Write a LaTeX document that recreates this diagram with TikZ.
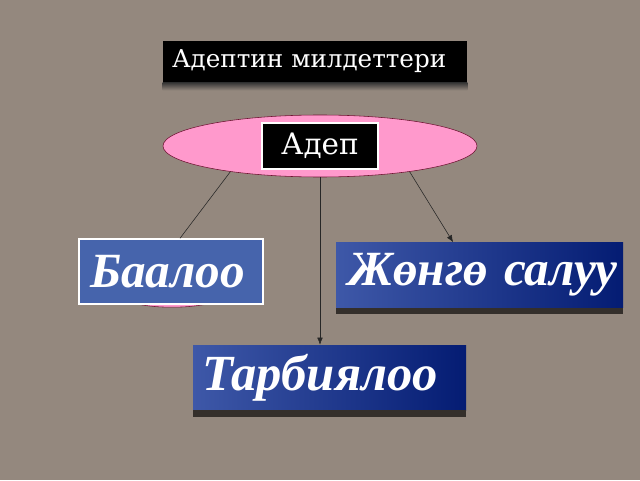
\documentclass[tikz,border=0pt]{standalone}
\usepackage{fontspec}
\setmainfont{Liberation Serif}
\newfontfamily\titlefont{DejaVu Serif}
\usetikzlibrary{shapes.geometric,arrows.meta,calc,positioning}
\definecolor{granite}{RGB}{148,136,126}
\definecolor{rosepink}{RGB}{255,153,204}
\definecolor{darkrose}{RGB}{110,20,50}
\definecolor{midblue}{RGB}{70,100,172}
\definecolor{lightnavy}{RGB}{62,88,168}
\definecolor{darknavy}{RGB}{4,28,115}
\definecolor{shadowbrown}{RGB}{52,47,43}

\begin{document}
\begin{tikzpicture}[
  blackbox/.style={fill=black,text=white,font=\titlefont\fontsize{17.5}{20}\selectfont,inner sep=0pt},
  bluebox/.style={text=white,font=\fontsize{35}{40}\selectfont\bfseries\itshape,align=left,inner sep=0pt,minimum height=1.625cm},
  navybox/.style={bluebox,left color=lightnavy,right color=darknavy},
  link/.style={draw=black!85,line width=0.4pt}
]
\fill[granite] (0,0) rectangle (16,12);
\useasboundingbox (0,0) rectangle (16,12);

% title
\node[blackbox,minimum width=7.6cm,minimum height=1.03cm,text width=7.15cm,align=left] (title) at (7.875,10.4625) {\mbox{Адептин милдеттери}};
\shade[top color=black!80,bottom color=granite] ($(title.south west)+(0,-0.2)$) rectangle (title.south east);

% the ellipse and its label
\node[ellipse,draw=darkrose,fill=rosepink,minimum width=7.85cm,minimum height=1.55cm,inner sep=0pt] (duty) at (8,8.35) {};
\node[blackbox,draw=white,line width=1.2pt,minimum width=2.9cm,minimum height=1.15cm,font=\titlefont\fontsize{21}{24}\selectfont] (adep) at (duty.center) {Адеп};

% pink piece behind the left box
\fill[rosepink,draw=darkrose] (4.3,4.8) ellipse [x radius=1.6,y radius=0.48];

% boxes
\node[bluebox,fill=midblue,draw=white,line width=1pt,minimum width=4.6cm,text width=4.05cm] (baaloo) at (4.275,5.2125) {\mbox{Баалоо}};
\node[navybox,minimum width=7.175cm,text width=6.575cm] (jongo) at (11.9875,5.125) {\mbox{Жөнгө салуу}};
\node[navybox,minimum width=6.825cm,text width=6.375cm,font=\fontsize{36}{42}\selectfont\bfseries\itshape] (tarbiya) at (8.2375,2.5625) {\mbox{Тарбиялоо}};
\fill[shadowbrown] ($(jongo.south west)+(0,-0.15)$) rectangle (jongo.south east);
\fill[shadowbrown] ($(tarbiya.south west)+(0,-0.17)$) rectangle (tarbiya.south east);

% connectors
\draw[link] (duty.196) -- ($(baaloo.north)+(0.225,0)$);
\draw[link,-{Latex[length=5pt,width=4pt]}] (duty.south) -- (duty.south |- tarbiya.north);
\draw[link,-{Latex[length=5pt,width=4pt]}] (duty.-16) -- ($(jongo.north)+(-0.66,0)$);
\end{tikzpicture}
\end{document}
